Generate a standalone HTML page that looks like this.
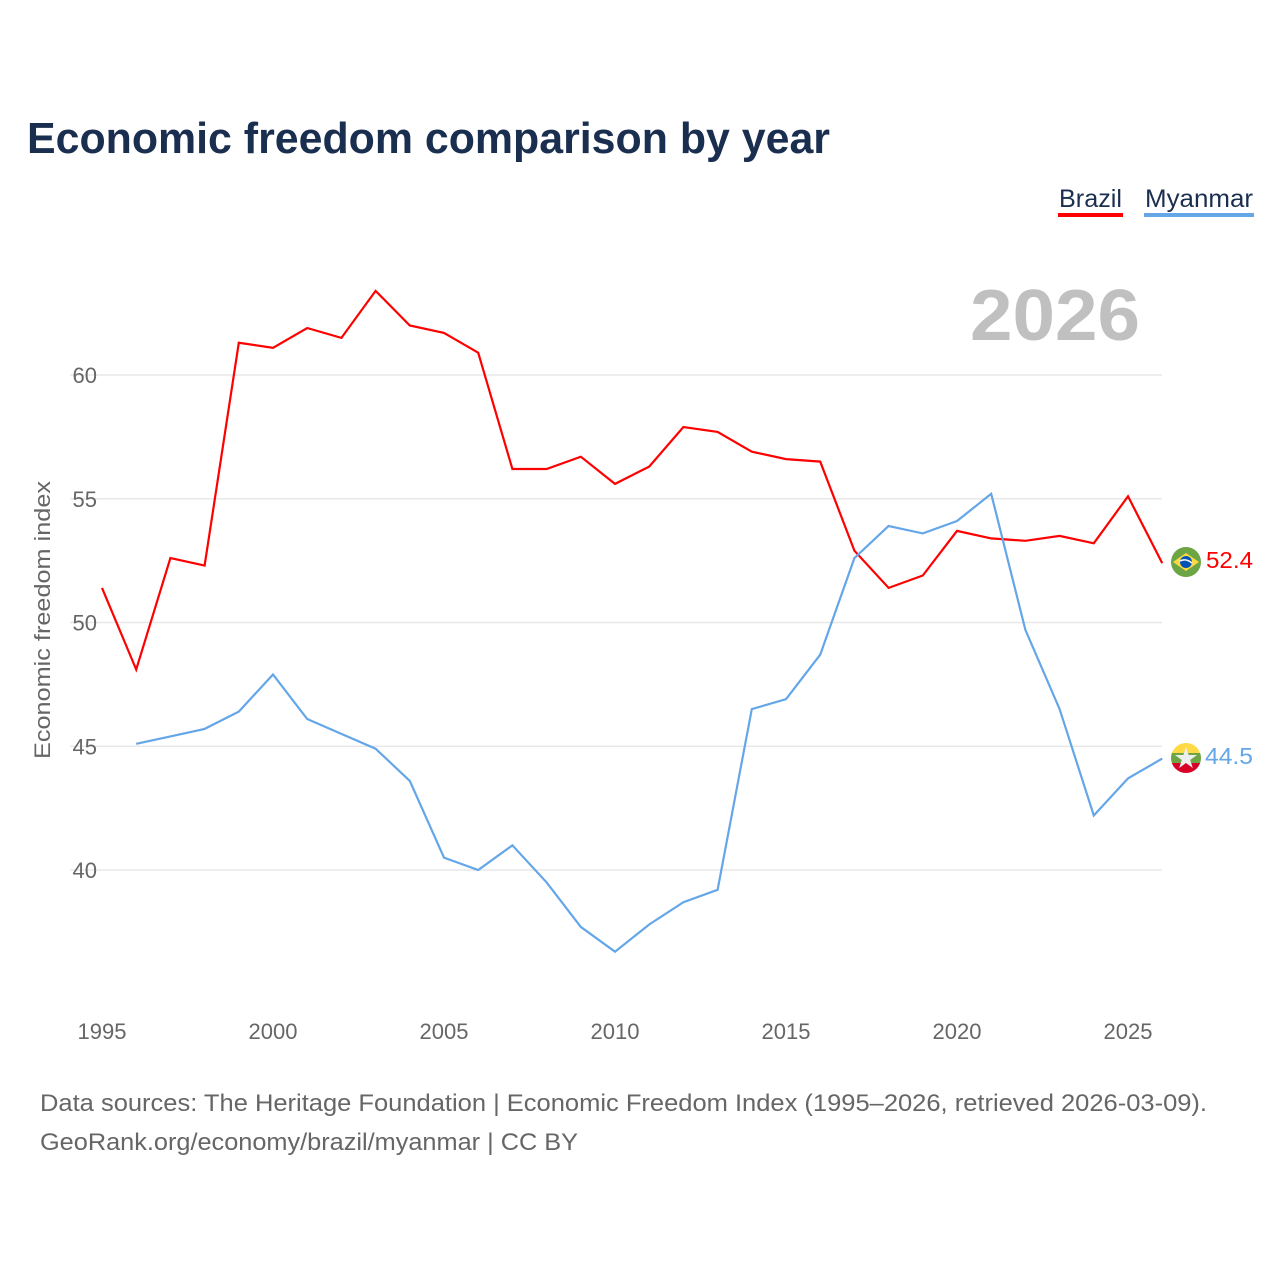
<!DOCTYPE html>
<html><head><meta charset="utf-8"><style>
body{margin:0;background:#fff;font-family:"Liberation Sans",sans-serif;}
svg text{font-family:"Liberation Sans",sans-serif;}
</style></head><body>
<svg id="chart" width="1280" height="1280" viewBox="0 0 1280 1280" xmlns="http://www.w3.org/2000/svg">
<text x="27" y="153" font-size="44" font-weight="bold" fill="#1a2e4f" textLength="803" lengthAdjust="spacingAndGlyphs">Economic freedom comparison by year</text>
<g>
<text x="1059" y="207" font-size="25" fill="#1a2e4f" textLength="63" lengthAdjust="spacingAndGlyphs">Brazil</text>
<rect x="1058" y="213" width="65" height="4" fill="#ff0000"/>
<text x="1145" y="207" font-size="25" fill="#1a2e4f" textLength="108" lengthAdjust="spacingAndGlyphs">Myanmar</text>
<rect x="1144" y="213" width="110" height="4" fill="#64a6e8"/>
</g>
<text x="970" y="340" font-size="72" font-weight="bold" fill="#c0c0c0" textLength="170" lengthAdjust="spacingAndGlyphs">2026</text>
<g id="grid"></g>
<g id="yticks"></g>
<g id="xticks"></g>
<text transform="translate(50,620) rotate(-90)" font-size="22" fill="#666" text-anchor="middle" textLength="278" lengthAdjust="spacingAndGlyphs">Economic freedom index</text>
<g id="series"></g>
<g>
<circle cx="1186" cy="562" r="15" fill="#6da544"/>
<polygon points="1173,562 1186,553 1199,562 1186,571" fill="#ffda44"/>
<circle cx="1186" cy="562" r="6" fill="#0052b4"/>
<path d="M1180,561 Q1186,558 1192,563" stroke="#fff" stroke-width="1.5" fill="none"/>
</g>
<g>
<clipPath id="mc"><circle cx="1186" cy="758" r="15"/></clipPath>
<g clip-path="url(#mc)">
<rect x="1171" y="743" width="30" height="10" fill="#ffda44"/>
<rect x="1171" y="753" width="30" height="10" fill="#6da544"/>
<rect x="1171" y="763" width="30" height="10" fill="#d80027"/>
</g>
<polygon points="1186,747 1188.6,755 1197,755 1190.2,760 1192.8,768 1186,763 1179.2,768 1181.8,760 1175,755 1183.4,755" fill="#eee"/>
</g>
<text x="1206" y="568" font-size="23" fill="#ff0000" textLength="47" lengthAdjust="spacingAndGlyphs">52.4</text>
<text x="1205" y="764" font-size="23" fill="#64a6e8" textLength="48" lengthAdjust="spacingAndGlyphs">44.5</text>
<text x="40" y="1111" font-size="24" fill="#666" textLength="1167" lengthAdjust="spacingAndGlyphs">Data sources: The Heritage Foundation | Economic Freedom Index (1995–2026, retrieved 2026-03-09).</text>
<text x="40" y="1150" font-size="24" fill="#666" textLength="538" lengthAdjust="spacingAndGlyphs">GeoRank.org/economy/brazil/myanmar | CC BY</text>
</svg>
<script>
const years=[1995,1996,1997,1998,1999,2000,2001,2002,2003,2004,2005,2006,2007,2008,2009,2010,2011,2012,2013,2014,2015,2016,2017,2018,2019,2020,2021,2022,2023,2024,2025,2026];
const brazil=[51.4,48.1,52.6,52.3,61.3,61.1,61.9,61.5,63.4,62.0,61.7,60.9,56.2,56.2,56.7,55.6,56.3,57.9,57.7,56.9,56.6,56.5,52.9,51.4,51.9,53.7,53.4,53.3,53.5,53.2,55.1,52.4];
const myanmar=[null,45.1,45.4,45.7,46.4,47.9,46.1,45.5,44.9,43.6,40.5,40.0,41.0,39.5,37.7,36.7,37.8,38.7,39.2,46.5,46.9,48.7,52.6,53.9,53.6,54.1,55.2,49.7,46.5,42.2,43.7,44.5];
const yTicks=[40,45,50,55,60];
const xTicks=[1995,2000,2005,2010,2015,2020,2025];
const NS="http://www.w3.org/2000/svg";
const xs=y=>102+(y-1995)*34.2;
const ys=v=>375+(60-v)*24.75;
const grid=document.getElementById('grid'),yt=document.getElementById('yticks'),xt=document.getElementById('xticks'),ser=document.getElementById('series');
yTicks.forEach(t=>{
 const l=document.createElementNS(NS,'line');
 l.setAttribute('x1',70);l.setAttribute('x2',1162);l.setAttribute('y1',ys(t));l.setAttribute('y2',ys(t));
 l.setAttribute('stroke','#e8e8e8');l.setAttribute('stroke-width','1.5');
 
 
 grid.appendChild(l);
 const tx=document.createElementNS(NS,'text');
 tx.setAttribute('x',97);tx.setAttribute('y',ys(t)+8);tx.setAttribute('text-anchor','end');
 tx.setAttribute('font-size','22');tx.setAttribute('fill','#666');tx.textContent=t;
 
 
 yt.appendChild(tx);
});
xTicks.forEach(t=>{
 const tx=document.createElementNS(NS,'text');
 tx.setAttribute('x',xs(t));tx.setAttribute('y',1039);tx.setAttribute('text-anchor','middle');
 tx.setAttribute('font-size','22');tx.setAttribute('fill','#666');tx.textContent=t;
 
 
 xt.appendChild(tx);
});
function line(vals,color,name){
 let d='';
 vals.forEach((v,i)=>{if(v==null)return;d+=(d?'L':'M')+xs(years[i]).toFixed(1)+','+ys(v).toFixed(1);});
 const p=document.createElementNS(NS,'path');
 p.setAttribute('d',d);p.setAttribute('fill','none');p.setAttribute('stroke',color);p.setAttribute('stroke-width','2.2');
 
 
 ser.appendChild(p);
}
line(brazil,'#ff0000','brazil-line');
line(myanmar,'#64a6e8','myanmar-line');
</script>
</body></html>
